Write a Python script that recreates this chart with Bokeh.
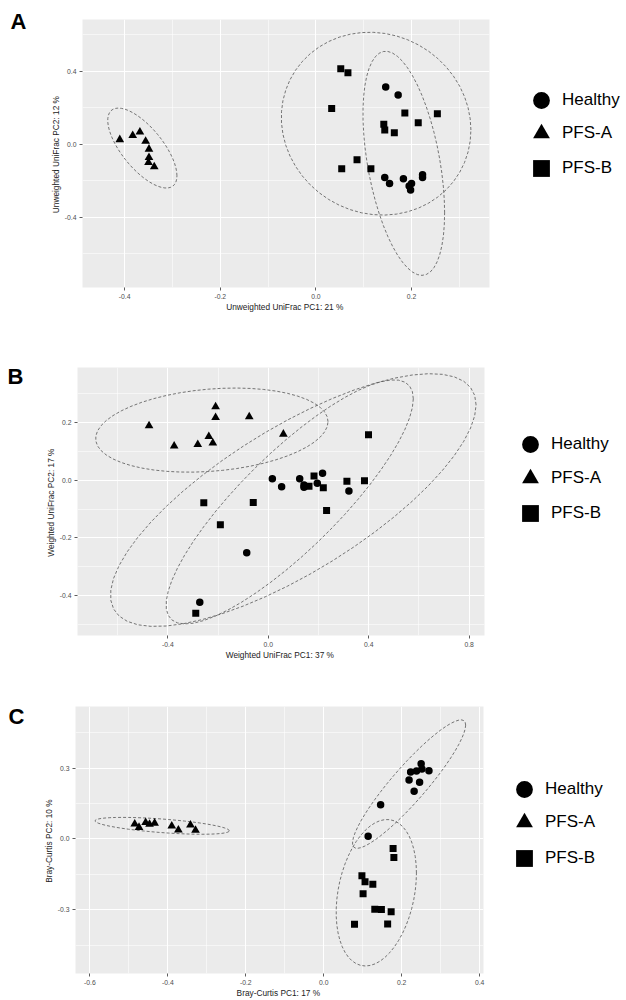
import numpy as np
from bokeh.plotting import figure
from bokeh.layouts import column, row
from bokeh.models import (Range1d, FixedTicker, PrintfTickFormatter, Legend,
                          LegendItem, Label)
from bokeh.embed import file_html
from bokeh.resources import INLINE

# ---------------- data ----------------
groups = ["Healthy", "PFS-A", "PFS-B"]

# Panel A: Unweighted UniFrac
a_healthy_x = [0.146, 0.172, 0.144, 0.154, 0.183, 0.200, 0.195, 0.198, 0.223, 0.223]
a_healthy_y = [0.313, 0.269, -0.182, -0.215, -0.189, -0.215, -0.229, -0.251, -0.167, -0.182]
a_pfsa_x = [-0.410, -0.383, -0.368, -0.356, -0.349, -0.349, -0.350, -0.338]
a_pfsa_y = [0.025, 0.047, 0.067, 0.016, -0.027, -0.073, -0.100, -0.124]
a_pfsb_x = [0.052, 0.067, 0.033, 0.186, 0.254, 0.142, 0.144, 0.164, 0.214, 0.086, 0.054, 0.115]
a_pfsb_y = [0.413, 0.391, 0.195, 0.171, 0.167, 0.109, 0.078, 0.062, 0.118, -0.085, -0.135, -0.135]

# Panel B: Weighted UniFrac
b_healthy_x = [0.016, 0.053, 0.125, 0.142, 0.142, 0.195, 0.216, 0.321, -0.086, -0.273]
b_healthy_y = [0.005, -0.022, 0.005, -0.016, -0.024, -0.010, 0.024, -0.037, -0.251, -0.423]
b_pfsa_x = [-0.475, -0.375, -0.281, -0.237, -0.221, -0.210, -0.210, -0.076, 0.060]
b_pfsa_y = [0.189, 0.119, 0.124, 0.152, 0.129, 0.255, 0.218, 0.220, 0.160]
b_pfsb_x = [-0.257, -0.060, -0.191, -0.289, 0.182, 0.162, 0.219, 0.232, 0.313, 0.383, 0.399]
b_pfsb_y = [-0.078, -0.077, -0.154, -0.461, 0.015, -0.021, -0.026, -0.105, -0.003, -0.002, 0.158]

# Panel C: Bray-Curtis
c_healthy_x = [0.250, 0.223, 0.238, 0.252, 0.270, 0.219, 0.246, 0.232, 0.146, 0.114]
c_healthy_y = [0.318, 0.284, 0.288, 0.296, 0.289, 0.250, 0.240, 0.202, 0.145, 0.011]
c_pfsa_x = [-0.485, -0.474, -0.457, -0.447, -0.434, -0.390, -0.373, -0.342, -0.329]
c_pfsa_y = [0.063, 0.049, 0.070, 0.062, 0.067, 0.055, 0.038, 0.059, 0.037]
c_pfsb_x = [0.178, 0.180, 0.098, 0.106, 0.126, 0.101, 0.131, 0.148, 0.173, 0.079, 0.164]
c_pfsb_y = [-0.041, -0.079, -0.156, -0.181, -0.192, -0.232, -0.298, -0.299, -0.308, -0.361, -0.360]

x_titles = ["Unweighted UniFrac PC1:  21 %", "Weighted UniFrac PC1:  37 %", "Bray-Curtis PC1:  17 %"]
y_titles = ["Unweighted UniFrac PC2:  12 %", "Weighted UniFrac PC2:  17 %", "Bray-Curtis PC2:  10 %"]
letters = ["A", "B", "C"]


# ---------------- stat_ellipse (type "norm", level 0.95) ----------------
def ellipse(xs, ys, level=0.95, segments=51):
    X = np.column_stack([xs, ys])
    n = len(xs)
    center = X.mean(axis=0)
    cov = np.cov(X, rowvar=False)
    dfd = n - 1
    qf = dfd / 2.0 * ((1 - level) ** (-2.0 / dfd) - 1)  # F quantile, dfn = 2
    radius = np.sqrt(2 * qf)
    ang = np.linspace(0, 2 * np.pi, segments + 1)
    circ = np.column_stack([np.cos(ang), np.sin(ang)])
    L = np.linalg.cholesky(cov)
    pts = center + radius * (circ @ L.T)
    return pts[:, 0], pts[:, 1]


LW = 36          # width of the strip holding the panel letter
TOTAL_W = 626
FH = 268
GH = 42          # legend key box

panels = [
    dict(data=[(a_healthy_x, a_healthy_y), (a_pfsa_x, a_pfsa_y), (a_pfsb_x, a_pfsb_y)],
         xr=(-0.488, 0.363), yr=(-0.785, 0.683),
         xt=[-0.4, -0.2, 0.0, 0.2], xm=[-0.3, -0.1, 0.1, 0.3],
         yt=[-0.4, 0.0, 0.4], ym=[-0.6, -0.2, 0.2, 0.6],
         bl=46, fw=407, br=10, bt=19, bb=40,
         leg_x=21, leg_y=[100, 133, 168], let=(10, 21)),
    dict(data=[(b_healthy_x, b_healthy_y), (b_pfsa_x, b_pfsa_y), (b_pfsb_x, b_pfsb_y)],
         xr=(-0.760, 0.861), yr=(-0.538, 0.391),
         xt=[-0.4, 0.0, 0.4, 0.8], xm=[-0.6, -0.2, 0.2, 0.6],
         yt=[-0.4, -0.2, 0.0, 0.2], ym=[-0.5, -0.3, -0.1, 0.1, 0.3],
         bl=41, fw=407, br=10, bt=40, bb=38,
         leg_x=15, leg_y=[117, 151, 186], let=(7, 49)),
    dict(data=[(c_healthy_x, c_healthy_y), (c_pfsa_x, c_pfsa_y), (c_pfsb_x, c_pfsb_y)],
         xr=(-0.637, 0.410), yr=(-0.570, 0.561),
         xt=[-0.6, -0.4, -0.2, 0.0, 0.2, 0.4], xm=[-0.5, -0.3, -0.1, 0.1, 0.3],
         yt=[-0.3, 0.0, 0.3], ym=[-0.45, -0.15, 0.15, 0.45],
         bl=39, fw=408, br=10, bt=33, bb=26,
         leg_x=10, leg_y=[116, 149, 185], let=(8, 43)),
]

markers = ["circle", "triangle", "square"]
sizes = [7.5, 8.7, 7]


def blank(width, height):
    f = figure(width=width, height=height, output_backend="svg", toolbar_location=None,
               x_range=Range1d(0, width), y_range=Range1d(0, height),
               x_axis_type=None, y_axis_type=None,
               min_border_left=0, min_border_right=0, min_border_top=0, min_border_bottom=0)
    f.frame_align = False
    f.outline_line_color = None
    f.background_fill_color = "white"
    f.border_fill_color = "white"
    f.grid.visible = False
    return f


rows = []
for i, pn in enumerate(panels):
    W = pn["bl"] + pn["fw"] + pn["br"]
    H = pn["bt"] + FH + pn["bb"]
    p = figure(width=W, height=H, output_backend="svg",
               toolbar_location=None, x_range=Range1d(*pn["xr"]), y_range=Range1d(*pn["yr"]),
               min_border_left=pn["bl"], min_border_right=pn["br"],
               min_border_top=pn["bt"], min_border_bottom=pn["bb"])
    p.background_fill_color = "#EBEBEB"
    p.border_fill_color = "white"
    p.outline_line_color = None

    p.xaxis.ticker = FixedTicker(ticks=pn["xt"], minor_ticks=pn["xm"])
    p.yaxis.ticker = FixedTicker(ticks=pn["yt"], minor_ticks=pn["ym"])
    for ax in (p.xaxis, p.yaxis):
        ax.formatter = PrintfTickFormatter(format="%.1f")
        ax.axis_line_color = None
        ax.major_tick_line_color = "#333333"
        ax.major_tick_line_width = 0.8
        ax.major_tick_out = 3
        ax.major_tick_in = 0
        ax.minor_tick_line_color = None
        ax.major_label_text_font = "Liberation Sans"
        ax.major_label_text_font_size = "6.8px"
        ax.major_label_text_color = "#4D4D4D"
        ax.major_label_standoff = 2
        ax.axis_label_text_font = "Liberation Sans"
        ax.axis_label_text_font_size = "8.3px"
        ax.axis_label_text_font_style = "normal"
        ax.axis_label_text_color = "#1a1a1a"
    p.xaxis.axis_label_standoff = 0
    p.yaxis.axis_label_standoff = 1
    p.xaxis.axis_label = x_titles[i]
    p.yaxis.axis_label = y_titles[i]

    for g in (p.xgrid, p.ygrid):
        g.grid_line_color = "white"
        g.grid_line_width = 1.0
        g.minor_grid_line_color = "white"
        g.minor_grid_line_width = 0.55

    for k, (xs, ys) in enumerate(pn["data"]):
        ex, ey = ellipse(xs, ys)
        p.line(ex, ey, line_color="#555555", line_width=0.8, line_dash="3 2")
    for k, (xs, ys) in enumerate(pn["data"]):
        p.scatter(xs, ys, marker=markers[k], size=sizes[k],
                  fill_color="black", line_color=None)

    # letter strip
    lf = blank(LW, H)
    lf.add_layout(Label(x=pn["let"][0], y=H - pn["let"][1],
                        text=letters[i], text_font="Liberation Sans", text_font_style="bold",
                        text_font_size="22px", text_color="black",
                        text_align="left", text_baseline="middle"))

    # legend strip: hidden copies of the group renderers provide the keys
    GW = TOTAL_W - LW - W
    gf = blank(GW, H)
    for k, (xs, ys) in enumerate(pn["data"]):
        r = gf.scatter(xs, ys, marker=markers[k], size=sizes[k],
                       fill_color="black", line_color=None, visible=False)
        yc = pn["leg_y"][k]
        leg = Legend(items=[LegendItem(label=groups[k], renderers=[r])],
                     location=(pn["leg_x"], H - yc - GH // 2),
                     glyph_width=GH, glyph_height=GH, spacing=0, label_standoff=0,
                     padding=0, margin=0, border_line_color=None, background_fill_alpha=0,
                     inactive_fill_alpha=0,
                     label_text_font="Liberation Sans", label_text_font_size="17px",
                     label_text_color="black", label_text_baseline="middle")
        gf.add_layout(leg, "center")

    rows.append(row(lf, p, gf, spacing=0))

layout = column(*rows, spacing=0)
open("out.html", "w").write(file_html(layout, INLINE))
